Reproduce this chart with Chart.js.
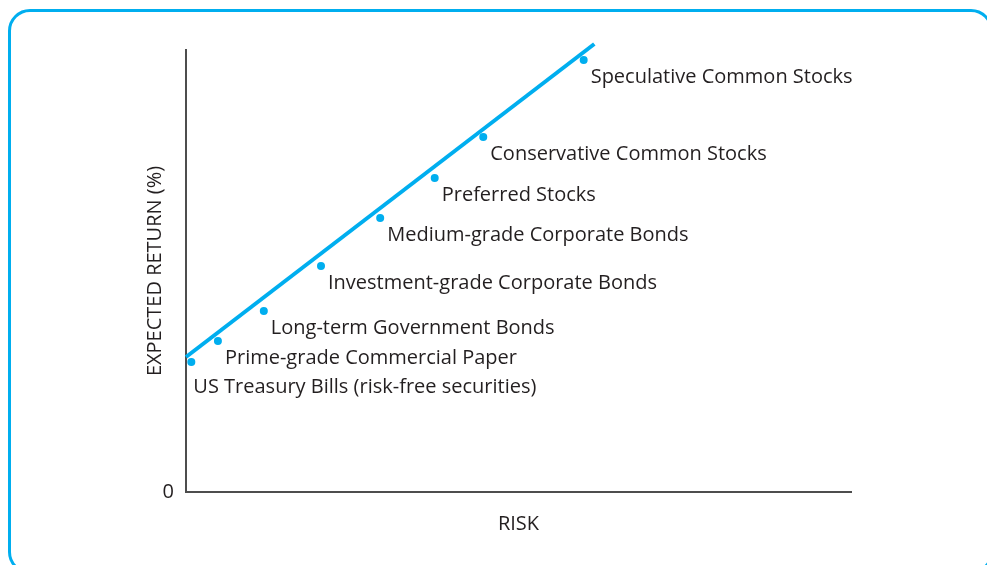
<!DOCTYPE html>
<html lang="en">
<head>
    <meta charset="UTF-8">
    <title>Risk and Expected Return</title>
    <script src="https://cdn.jsdelivr.net/npm/chart.js"></script>
    <style>
        html, body {
            margin: 0;
            padding: 0;
            background: #ffffff;
            overflow: hidden;
        }
        .frame {
            position: absolute;
            left: 8px;
            top: 9px;
            width: 985px;
            height: 565px;
            border: 3px solid #00aeef;
            border-radius: 22px;
            box-sizing: border-box;
        }
        #riskChart {
            position: absolute;
            left: 0;
            top: 0;
        }
    </style>
</head>
<body>
    <div class="frame"></div>
    <canvas id="riskChart" width="987" height="565"></canvas>

    <script>
        // securities, from lowest to highest risk
        const securities = [
            'US Treasury Bills (risk-free securities)',
            'Prime-grade Commercial Paper',
            'Long-term Government Bonds',
            'Investment-grade Corporate Bonds',
            'Medium-grade Corporate Bonds',
            'Preferred Stocks',
            'Conservative Common Stocks',
            'Speculative Common Stocks'
        ];
        // risk (x) and expected return (y), arbitrary units
        const riskValues = [0.08, 0.48, 1.17, 2.03, 2.92, 3.74, 4.47, 5.98];
        const returnValues = [5.88, 6.83, 8.19, 10.23, 12.40, 14.21, 16.06, 19.55];
        // risk-return line endpoints
        const lineRisk = [0, 6.14];
        const lineReturn = [6.11, 20.27];
        const yTickLabels = ['0'];

        const blue = '#00aeef';
        const textColor = '#231f20';
        const axisColor = '#4d4d4d';
        const fontFamily = '"Open Sans", "Liberation Sans", Arial, sans-serif';
        const fontSize = 20;

        // write each security name next to its dot
        const pointLabels = {
            id: 'pointLabels',
            afterDatasetsDraw(chart) {
                const { ctx, scales } = chart;
                ctx.save();
                ctx.font = fontSize + 'px ' + fontFamily;
                ctx.fillStyle = textColor;
                ctx.textAlign = 'left';
                ctx.textBaseline = 'middle';
                securities.forEach((name, i) => {
                    const px = scales.x.getPixelForValue(riskValues[i]);
                    const py = scales.y.getPixelForValue(returnValues[i]);
                    // first label sits under the line start
                    const dx = i === 0 ? 2 : 7;
                    const dy = i === 0 ? 25 : 17;
                    ctx.fillText(name, px + dx, py + dy);
                });
                ctx.restore();
            }
        };

        const ctx = document.getElementById('riskChart').getContext('2d');
        const riskChart = new Chart(ctx, {
            type: 'scatter',
            data: {
                datasets: [
                    {
                        type: 'line',
                        label: 'Risk-return line',
                        data: lineRisk.map((x, i) => ({ x: x, y: lineReturn[i] })),
                        borderColor: blue,
                        borderWidth: 4,
                        pointRadius: 0,
                        fill: false,
                        clip: false
                    },
                    {
                        label: 'Securities',
                        data: riskValues.map((x, i) => ({ x: x, y: returnValues[i] })),
                        backgroundColor: blue,
                        borderColor: blue,
                        pointRadius: 4,
                        pointBorderWidth: 0
                    }
                ]
            },
            options: {
                responsive: false,
                animation: false,
                layout: {
                    padding: { left: 0, right: 136, top: 50, bottom: 0 }
                },
                plugins: {
                    legend: { display: false },
                    tooltip: { enabled: false }
                },
                scales: {
                    x: {
                        type: 'linear',
                        min: 0,
                        max: 10,
                        grid: { display: false },
                        border: { display: true, color: axisColor, width: 2 },
                        ticks: { display: false },
                        title: {
                            display: true,
                            text: 'RISK',
                            color: textColor,
                            font: { family: fontFamily, size: fontSize },
                            padding: { top: 0, bottom: 29 }
                        },
                        afterFit(scale) { scale.height = 73; }
                    },
                    y: {
                        type: 'linear',
                        min: 0,
                        max: 20,
                        grid: { display: false, drawTicks: false },
                        border: { display: true, color: axisColor, width: 2 },
                        afterBuildTicks(scale) {
                            scale.ticks = yTickLabels.map(t => ({ value: Number(t) }));
                        },
                        ticks: {
                            color: textColor,
                            padding: 12,
                            font: { family: fontFamily, size: fontSize },
                            callback: (v) => String(v)
                        },
                        title: {
                            display: true,
                            text: 'EXPECTED RETURN (%)',
                            color: textColor,
                            font: { family: fontFamily, size: fontSize },
                            padding: { top: 143, bottom: 0 }
                        },
                        afterFit(scale) { scale.width = 186; }
                    }
                }
            },
            plugins: [pointLabels]
        });
    </script>
</body>
</html>
